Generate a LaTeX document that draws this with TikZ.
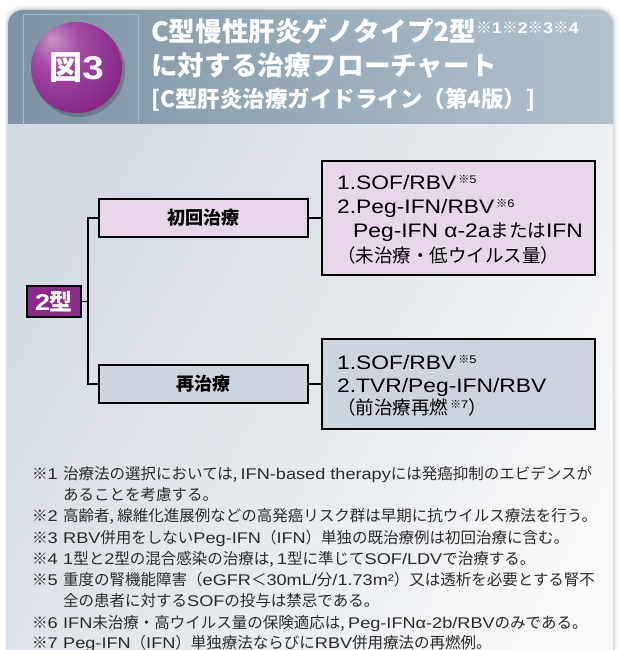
\documentclass[tikz,border=0pt]{standalone}
\usepackage{fontspec}
\setmainfont{Noto Sans CJK JP}
\newfontfamily\lf[FakeStretch=1.17]{Liberation Sans}
\newcommand\la[1]{{\lf #1}}
\newcommand\lb[1]{{\fontsize{19.5}{22}\selectfont\lf #1}}
\newcommand\supm[1]{\hspace{2pt}\raisebox{5.5pt}{\fontsize{11}{11}\selectfont #1}}
\definecolor{hdrL}{HTML}{7D93A3}
\definecolor{hdrR}{HTML}{B4C2CD}
\definecolor{frameln}{HTML}{A8B8C4}
\definecolor{bodyA}{HTML}{D4DBE3}
\definecolor{bodyB}{HTML}{F8F9FA}
\definecolor{pinkbox}{HTML}{E6D7E9}
\definecolor{graybox}{HTML}{CCD4DE}
\definecolor{purp}{HTML}{8C2A8C}
\definecolor{pA}{HTML}{C592C5}
\definecolor{pB}{HTML}{A24AA2}
\definecolor{pC}{HTML}{8A2A8A}
\definecolor{pD}{HTML}{6A1C6A}
\definecolor{fntext}{HTML}{2B2B2B}
\pgfdeclareradialshading{purpball}{\pgfpoint{-14bp}{16bp}}{color(0bp)=(pA); color(14bp)=(pB); color(32bp)=(pC); color(50bp)=(pD); color(70bp)=(pD)}
\tikzset{
  ttl/.style={anchor=base west, inner sep=0, text=white},
  conn/.style={line width=1.3pt, black},
  lvlbox/.style={draw=black, line width=1.4pt, minimum width=209pt, minimum height=38pt, inner sep=0, font=\fontsize{18}{18}\selectfont\bfseries},
  resbox/.style={draw=black, line width=1.4pt, minimum width=273pt, inner sep=0},
  bt/.style={anchor=base west, inner sep=0, font=\fontsize{18.5}{22}\selectfont},
  fnm/.style={anchor=base west, inner sep=0, text=fntext, font=\fontsize{15.5}{18}\selectfont}
}
\begin{document}
\begin{tikzpicture}[x=1pt, y=-1pt]
\useasboundingbox (0,0) rectangle (618,650);
\fill[white] (0,0) rectangle (618,650);
% panel shadow
\foreach \i/\o in {4/0.025,3/0.035,2/0.045,1/0.06}
  \fill[black, opacity=\o, rounded corners=16pt] (8-\i,10-\i) rectangle (613+\i,720);
% panel
\begin{scope}
\clip[rounded corners=15pt] (8,10) rectangle (613,720);
\shade[left color=hdrL, right color=hdrR] (8,10) rectangle (613,125);
\shade[top color=bodyA, bottom color=bodyB, shading angle=60] (8,125) rectangle (613,720);
\end{scope}
\draw[frameln, line width=0.8pt] (23,125) -- (23,14) -- (138,14) -- (138,125);
% badge
\fill[black, opacity=0.2] (79,71) circle (46);
\node[circle, minimum size=91pt, inner sep=0, shade, shading=purpball, text=white,
      font=\fontsize{33}{33}\selectfont\bfseries] (badge) at (76.5,67.5) {図\la{3}};
% title
\node[ttl, font=\fontsize{26.6}{27}\selectfont\bfseries] (t1) at (151,42)
  {C型慢性肝炎ゲノタイプ2型\raisebox{8pt}{\fontsize{15.5}{16}\selectfont ※\la{1}※\la{2}※\la{3}※\la{4}}};
\node[ttl, font=\fontsize{26.6}{27}\selectfont\bfseries] (t2) at (151,76) {に対する治療フローチャート};
\node[ttl, font=\fontsize{22.5}{23}\selectfont\bfseries] (t3) at (151,108) {[C型肝炎治療ガイドライン（第4版）]};
% flowchart
\node[draw=black, line width=1.2pt, fill=purp, text=white, minimum width=54pt, minimum height=31pt, inner sep=0,
      font=\fontsize{23}{23}\selectfont\bfseries] (gt) at (54,301.5) {\la{2}型};
\node[lvlbox, fill=pinkbox] (first) at (203.5,218) {初回治療};
\node[lvlbox, fill=graybox] (re) at (203.5,384) {再治療};
\node[resbox, fill=pinkbox, minimum height=114pt] (r1) at (458.5,218) {};
\node[resbox, fill=graybox, minimum height=90pt] (r2) at (458.5,384) {};
\coordinate (j) at (88,301.5);
\draw[conn] (gt.east) -- (j);
\draw[conn] (first.west) -| (j) |- (re.west);
\draw[conn] (first.east) -- (r1.west);
\draw[conn] (re.east) -- (r2.west);
% box texts
\node[bt] (r1a) at (337,189) {\lb{1.SOF/RBV}\supm{※\la{5}}};
\node[bt] (r1b) at (337,213) {\lb{2.Peg-IFN/RBV}\supm{※\la{6}}};
\node[bt] (r1c) at (353,237) {\lb{Peg-IFN α-2a}または\lb{IFN}};
\node[bt] (r1d) at (337,262) {（未治療・低ウイルス量）};
\node[bt] (r2a) at (337,369) {\lb{1.SOF/RBV}\supm{※\la{5}}};
\node[bt] (r2b) at (337,392) {\lb{2.TVR/Peg-IFN/RBV}};
\node[bt] (r2c) at (337,414) {（前治療再燃\supm{※\la{7}}）};
% footnotes
\node[fnm] (m1) at (32,479) {※\la{1}};
\node[fnm] (f1) at (63,479) {治療法の選択においては, \la{IFN-based therapy}には発癌抑制のエビデンスが};
\node[fnm] (f1b) at (63,500) {あることを考慮する。};
\node[fnm] (m2) at (32,521.5) {※\la{2}};
\node[fnm] (f2) at (63,521.5) {高齢者, 線維化進展例などの高発癌リスク群は早期に抗ウイルス療法を行う。};
\node[fnm] (m3) at (32,543) {※\la{3}};
\node[fnm] (f3) at (63,543) {\la{RBV}併用をしない\la{Peg-IFN}（\la{IFN}）単独の既治療例は初回治療に含む。};
\node[fnm] (m4) at (32,564) {※\la{4}};
\node[fnm] (f4) at (63,564) {\la{1}型と\la{2}型の混合感染の治療は, \la{1}型に準じて\la{SOF/LDV}で治療する。};
\node[fnm] (m5) at (32,585) {※\la{5}};
\node[fnm] (f5) at (63,585) {重度の腎機能障害（\la{eGFR}＜\la{30mL/}分\la{/1.73m²}）又は透析を必要とする腎不};
\node[fnm] (f5b) at (63,606.5) {全の患者に対する\la{SOF}の投与は禁忌である。};
\node[fnm] (m6) at (32,628) {※\la{6}};
\node[fnm] (f6) at (63,628) {\la{IFN}未治療・高ウイルス量の保険適応は, \la{Peg-IFNα-2b/RBV}のみである。};
\node[fnm] (m7) at (32,648) {※\la{7}};
\node[fnm] (f7) at (63,648) {\la{Peg-IFN}（\la{IFN}）単独療法ならびに\la{RBV}併用療法の再燃例。};
\end{tikzpicture}
\end{document}
